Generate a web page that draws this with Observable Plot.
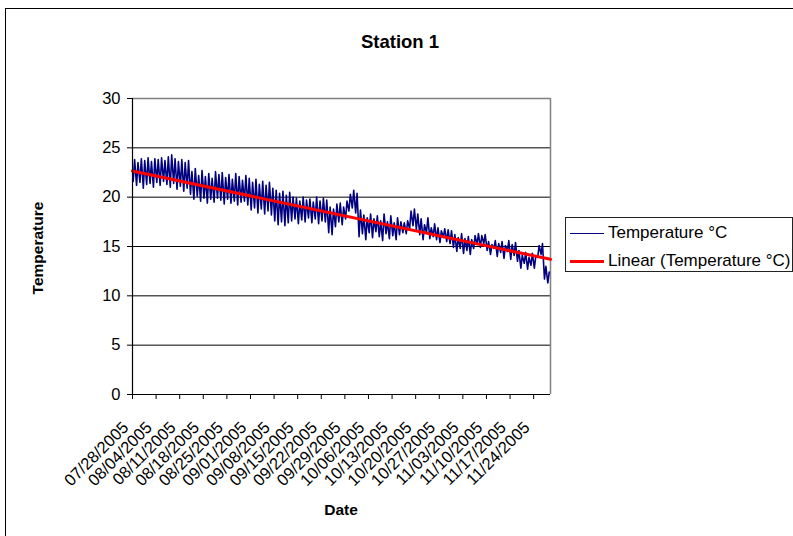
<!DOCTYPE html>
<html><head><meta charset="utf-8">
<script src="https://cdn.jsdelivr.net/npm/d3@7"></script>
<script src="https://cdn.jsdelivr.net/npm/@observablehq/plot@0.6"></script>
<style>
body{margin:0;background:#fff;font-family:Arial,"Liberation Sans",sans-serif;}
#wrap{position:relative;width:793px;height:536px;overflow:hidden;background:#fff;}
#frame{position:absolute;left:5px;top:8px;width:820px;height:560px;border-left:1px solid #000;border-top:1px solid #000;}
#chart{position:absolute;left:0;top:0;}
.t{position:absolute;color:#000;white-space:nowrap;font-weight:bold;}
#title{left:400px;top:42px;transform:translate(-50%,-50%);font-size:18.5px;}
#ylab{left:38px;top:248px;transform:translate(-50%,-50%) rotate(-90deg);font-size:15.5px;}
#xlab{left:341px;top:510px;transform:translate(-50%,-50%);font-size:15.5px;}
#legend{position:absolute;left:565px;top:217px;width:228px;height:55px;border:1px solid #222;box-sizing:border-box;font-size:17px;white-space:nowrap;}
.row{position:absolute;left:4px;height:18px;display:flex;align-items:center;}
.sw{width:34px;margin-right:4px;}
</style></head>
<body>
<div id="wrap">
  <div id="frame"></div>
  <div id="chart"></div>
  <div class="t" id="title">Station 1</div>
  <div class="t" id="ylab">Temperature</div>
  <div class="t" id="xlab">Date</div>
  <div id="legend">
    <div class="row" style="top:6px"><div class="sw" style="border-top:1.5px solid #000080"></div><span>Temperature °C</span></div>
    <div class="row" style="top:34px"><div class="sw" style="border-top:3px solid #ff0000"></div><span>Linear (Temperature °C)</span></div>
  </div>
</div>
<script>
// ---- data ----
const startDate = "2005-07-28";
const endDate = "2005-11-29";
// daily maxima (°C), one per day from 07/28/2005
const dailyHigh = [
  23.8,23.5,23.9,23.7,24.0,23.6,23.9,23.8,24.0,23.7,
  24.1,24.3,23.9,23.6,23.8,23.5,23.7,
  22.6,22.9,22.2,22.7,22.1,22.4,21.9,22.6,22.3,
  22.5,22.0,22.3,21.8,22.4,22.1,21.7,22.2,
  21.9,21.5,21.8,21.3,21.6,21.2,21.5,20.9,
  20.7,20.4,20.6,20.2,20.5,20.0,
  19.9,19.6,20.0,19.7,19.8,19.5,20.0,19.6,19.9,19.7,
  19.0,18.8,19.3,
  19.4,19.0,19.6,
  20.3,20.7,20.4,
  18.7,
  18.2,17.9,18.3,17.8,18.1,
  17.6,18.3,17.5,18.1,17.4,17.9,17.5,
  17.4,17.6,
  18.6,18.8,18.3,
  17.8,17.2,17.9,16.9,17.3,
  16.9,16.6,16.8,16.7,16.6,
  16.2,15.9,16.3,15.8,16.0,15.7,16.1,
  16.3,16.1,16.2,
  15.5,15.2,15.6,15.3,15.5,15.1,15.6,15.2,15.4,
  14.6,14.1,14.4,13.9,14.3,14.0,
  15.1,15.3,
  13.0,12.4
];
// daily minima (°C)
const dailyLow = [
  21.6,21.2,21.5,20.9,21.3,21.4,21.0,21.5,21.2,21.6,
  21.3,21.0,21.4,20.8,21.1,20.6,20.9,
  20.3,19.8,20.1,19.6,19.9,19.4,19.8,19.5,19.9,
  19.7,19.3,19.8,19.4,19.6,19.2,19.5,19.6,
  19.2,18.7,18.9,18.4,18.8,18.3,18.6,18.2,
  17.6,17.2,17.5,17.1,17.4,17.6,
  17.8,17.3,17.7,17.5,17.9,17.4,17.8,17.3,17.6,17.5,
  16.4,16.2,17.0,
  17.5,17.2,17.8,
  18.6,18.9,18.4,
  16.0,
  16.3,15.7,16.4,15.9,16.5,
  16.0,15.6,16.3,15.8,16.1,15.7,16.2,
  16.4,16.3,
  16.8,17.1,16.7,
  16.2,15.7,16.4,15.8,16.0,
  15.7,15.4,15.9,15.5,15.3,
  14.9,14.5,14.8,14.3,14.6,14.2,14.8,
  15.2,14.9,15.3,
  14.6,14.2,14.8,14.0,14.4,13.8,14.5,13.7,14.1,
  13.5,12.8,13.3,12.7,13.1,12.8,
  13.9,14.2,
  11.7,11.3
];
const tickLabels = ["07/28/2005","08/04/2005","08/11/2005","08/18/2005","08/25/2005","09/01/2005",
  "09/08/2005","09/15/2005","09/22/2005","09/29/2005","10/06/2005","10/13/2005","10/20/2005",
  "10/27/2005","11/03/2005","11/10/2005","11/17/2005","11/24/2005"];
const yTicks = [0,5,10,15,20,25,30];
const gridValues = [5,10,15,20,25];
const trendDates = ["2005-07-28","2005-11-29"];
const trendValues = [22.65,13.7];

// ---- build tables ----
const parseISO = d3.utcParse("%Y-%m-%d");
const parseLabel = d3.utcParse("%m/%d/%Y");
const t0 = parseISO(startDate);
const t1 = parseISO(endDate);
const series = [];
dailyLow.forEach((lo, i) => {
  const day = d3.utcDay.offset(t0, i);
  series.push({date: d3.utcHour.offset(day, 5), value: lo});
  series.push({date: d3.utcHour.offset(day, 15), value: dailyHigh[i]});
});
const trend = trendDates.map((d, i) => ({date: parseISO(d), value: trendValues[i]}));
const ticks = tickLabels.map(l => ({date: parseLabel(l), label: l}));

const chart = Plot.plot({
  width: 793, height: 536,
  marginLeft: 132, marginRight: 243, marginTop: 98, marginBottom: 142,
  style: {fontFamily: "Arial, 'Liberation Sans', sans-serif", fontSize: "16.5px", color: "#000", background: "transparent"},
  x: {type: "utc", domain: [t0, t1]},
  y: {domain: [0, 30]},
  marks: [
    Plot.ruleY(gridValues, {stroke: "#000", strokeWidth: 1}),
    Plot.ruleY([30], {stroke: "#808080", strokeWidth: 1.5}),
    Plot.ruleX([t1], {stroke: "#808080", strokeWidth: 1.5}),
    Plot.axisY({ticks: yTicks, tickSize: 5, tickPadding: 7, label: null, fontSize: 16.5}),
    Plot.axisX({ticks: ticks.map(d => d.date), tickSize: 5, tickFormat: () => "", label: null}),
    Plot.text(ticks, {x: "date", frameAnchor: "bottom", text: "label", rotate: -45,
      textAnchor: "end", lineAnchor: "bottom", dx: -3, dy: 34, fontSize: 16.5, fill: "#000"}),
    Plot.line(series, {x: "date", y: "value", stroke: "#000080", strokeWidth: 1.6}),
    Plot.line(trend, {x: "date", y: "value", stroke: "#ff0000", strokeWidth: 3}),
    Plot.ruleX([t0], {stroke: "#000", strokeWidth: 1.2}),
    Plot.ruleY([0], {stroke: "#000", strokeWidth: 1.2})
  ]
});
document.getElementById("chart").appendChild(chart);
</script>
</body></html>
